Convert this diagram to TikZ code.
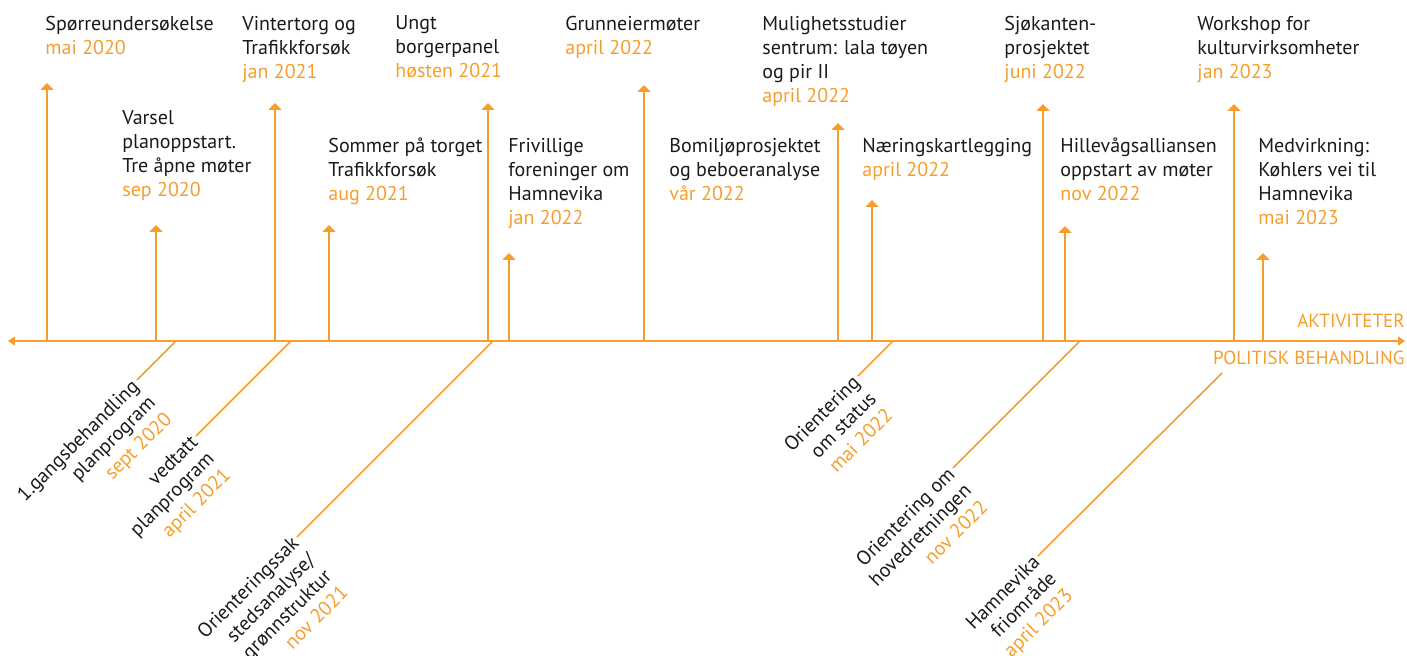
\documentclass[tikz,border=0pt]{standalone}
\usepackage{fontspec}
\setmainfont{PT Sans}
\usetikzlibrary{arrows.meta}
\definecolor{hamn}{RGB}{246,158,44}
\definecolor{tekst}{RGB}{26,26,26}

\begin{document}
\begin{tikzpicture}[x=0.5pt,y=-0.5pt,
  akt/.style={hamn,line width=1pt,-{Triangle[width=6.5pt,length=3.5pt]}},
  pol/.style={hamn,line width=0.8pt},
  txt/.style={anchor=north west,inner sep=0pt,align=left,text=tekst,font=\fontsize{10}{12}\selectfont},
  rtxt/.style={anchor=north east,inner sep=0pt,align=right,rotate=45,text=tekst,font=\fontsize{10}{11.6}\selectfont},
  overskrift/.style={anchor=base east,inner sep=0pt,text=hamn,font=\fontsize{9.5}{12}\selectfont}]
\useasboundingbox (0,0) rectangle (1407,656);

% tidslinje
\coordinate (start) at (8,341);
\coordinate (slutt) at (1405,341);
\draw[hamn,line width=0.8pt,{Triangle[width=4.5pt,length=3.5pt]}-{Triangle[width=4.5pt,length=3.5pt]}] (start) -- (slutt);
\node[overskrift] (aktiviteter) at (1405,328) {AKTIVITETER};
\node[overskrift] (politisk) at (1405,365) {POLITISK BEHANDLING};

% aktiviteter
\node[txt] (a1) at (45,15.5) {Spørreundersøkelse\\\textcolor{hamn}{mai 2020}};
\node[txt] (a2) at (122,110.5) {Varsel\\planoppstart.\\Tre åpne møter\\\textcolor{hamn}{sep 2020}};
\node[txt] (a3) at (242,15.5) {Vintertorg og\\Trafikkforsøk\\\textcolor{hamn}{jan 2021}};
\node[txt] (a4) at (328,137.5) {Sommer på torget\\Trafikkforsøk\\\textcolor{hamn}{aug 2021}};
\node[txt] (a5) at (395,15.5) {Ungt\\borgerpanel\\\textcolor{hamn}{høsten 2021}};
\node[txt] (a6) at (508,137.5) {Frivillige\\foreninger om\\Hamnevika\\\textcolor{hamn}{jan 2022}};
\node[txt] (a7) at (565,15.5) {Grunneiermøter\\\textcolor{hamn}{april 2022}};
\node[txt] (a8) at (669,137.5) {Bomiljøprosjektet\\og beboeranalyse\\\textcolor{hamn}{vår 2022}};
\node[txt] (a9) at (762,15.5) {Mulighetsstudier\\sentrum: lala tøyen\\og pir II\\\textcolor{hamn}{april 2022}};
\node[txt] (a10) at (862,137.5) {Næringskartlegging\\\textcolor{hamn}{april 2022}};
\node[txt] (a11) at (1004,15.5) {Sjøkanten-\\prosjektet\\\textcolor{hamn}{juni 2022}};
\node[txt] (a12) at (1060,137.5) {Hillevågsalliansen\\oppstart av møter\\\textcolor{hamn}{nov 2022}};
\node[txt] (a13) at (1197,15.5) {Workshop for\\kulturvirksomheter\\\textcolor{hamn}{jan 2023}};
\node[txt] (a14) at (1258,137.5) {Medvirkning:\\Køhlers vei til\\Hamnevika\\\textcolor{hamn}{mai 2023}};

\foreach \x/\y [count=\i] in {47/83,156/225,275/103,329/225,488/103,509/253,644/85,
  838/123,872/200,1043/104,1065/226,1234/104,1263/253}{
  \coordinate (fot\i) at (\x,341);
  \coordinate (topp\i) at (\x,\y);
  \draw[akt] (fot\i) -- (topp\i);
}

% politisk behandling
\node[rtxt] (p1) at (129.9,377.2) {1.gangsbehandling\\planprogram\\\textcolor{hamn}{sept 2020}};
\node[rtxt] (p2) at (188.9,433.2) {vedtatt\\planprogram\\\textcolor{hamn}{april 2021}};
\node[rtxt] (p3) at (289.9,534.2) {Orienteringssak\\stedsanalyse/\\grønnstruktur\\\textcolor{hamn}{nov 2021}};
\node[rtxt] (p4) at (850.9,373.2) {Orientering\\om status\\\textcolor{hamn}{mai 2022}};
\node[rtxt] (p5) at (945.9,465.2) {Orientering om\\hovedretningen\\\textcolor{hamn}{nov 2022}};
\node[rtxt] (p6) at (1030.9,553.2) {Hamnevika\\friområde\\\textcolor{hamn}{april 2023}};

\coordinate (q1) at (176,341);
\coordinate (q2) at (291,341);
\coordinate (q3) at (493,341);
\coordinate (q4) at (893,341);
\coordinate (q5) at (1080,341);
\coordinate (q6) at (1222,373);
\foreach \i in {1,...,6}{
  \draw[pol] (q\i) -- ([xshift=3.5pt,yshift=-1.4pt]p\i.north east);
}
\end{tikzpicture}
\end{document}
